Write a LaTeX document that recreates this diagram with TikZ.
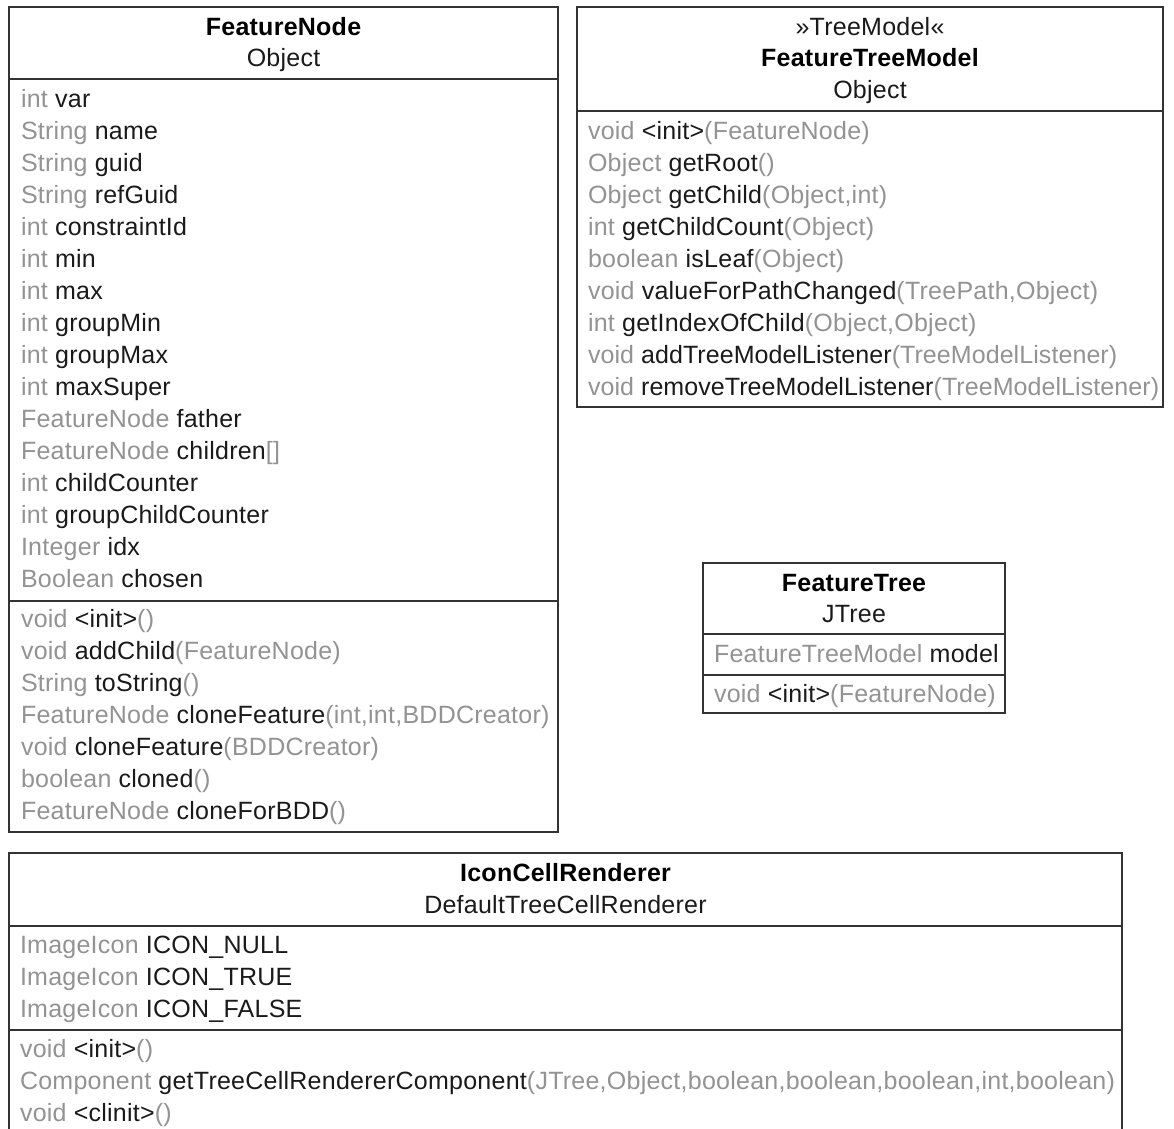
\documentclass[tikz,border=0pt]{standalone}
\usepackage{fontspec}
\setmainfont{Liberation Sans}[LetterSpace=1.0]
\definecolor{typecol}{HTML}{939393}
\definecolor{membercol}{HTML}{1A1A1A}
\definecolor{linecol}{HTML}{333333}
\newcommand{\ty}[1]{\textcolor{typecol}{#1}}
\tikzset{
  every node/.style={inner sep=0pt, outer sep=0pt},
  row/.style={anchor=base west, font=\fontsize{25}{30}\selectfont, text=membercol},
  tightrow/.style={row, font=\fontsize{25}{30}\selectfont\addfontfeature{LetterSpace=0.3}},
  ttl/.style={anchor=base, font=\fontsize{25}{30}\selectfont\bfseries, text=black},
  sub/.style={anchor=base, font=\fontsize{25}{30}\selectfont, text=membercol},
  cls/.style={draw=linecol, line width=2pt, anchor=north west, fill=white},
  sep/.style={draw=linecol, line width=2pt}
}
\begin{document}
\begin{tikzpicture}[x=1pt,y=-1pt]
\useasboundingbox (0,0) rectangle (1174,1128);
\clip (0,0) rectangle (1174,1128);
\fill[white] (0,0) rectangle (1174,1128);

% ---------------- FeatureNode ----------------
\node[cls, minimum width=549pt, minimum height=825pt] (fn) at (9,7) {};
\draw[sep] (9,79) -- (558,79);
\draw[sep] (9,601) -- (558,601);
\node[ttl] (fnt) at (283.5,35) {FeatureNode};
\node[sub] (fns) at (283.5,66) {Object};
\node[row] (fna1) at (21,107) {\ty{int} var};
\node[row] (fna2) at (21,139) {\ty{String} name};
\node[row] (fna3) at (21,171) {\ty{String} guid};
\node[row] (fna4) at (21,203) {\ty{String} refGuid};
\node[row] (fna5) at (21,235) {\ty{int} constraintId};
\node[row] (fna6) at (21,267) {\ty{int} min};
\node[row] (fna7) at (21,299) {\ty{int} max};
\node[row] (fna8) at (21,331) {\ty{int} groupMin};
\node[row] (fna9) at (21,363) {\ty{int} groupMax};
\node[row] (fna10) at (21,395) {\ty{int} maxSuper};
\node[row] (fna11) at (21,427) {\ty{FeatureNode} father};
\node[row] (fna12) at (21,459) {\ty{FeatureNode} children\ty{[]}};
\node[row] (fna13) at (21,491) {\ty{int} childCounter};
\node[row] (fna14) at (21,523) {\ty{int} groupChildCounter};
\node[row] (fna15) at (21,555) {\ty{Integer} idx};
\node[row] (fna16) at (21,587) {\ty{Boolean} chosen};
\node[row] (fnm1) at (21,627) {\ty{void} <init>\ty{()}};
\node[row] (fnm2) at (21,659) {\ty{void} addChild\ty{(FeatureNode)}};
\node[row] (fnm3) at (21,691) {\ty{String} toString\ty{()}};
\node[row] (fnm4) at (21,723) {\ty{FeatureNode} cloneFeature\ty{(int,int,BDDCreator)}};
\node[row] (fnm5) at (21,755) {\ty{void} cloneFeature\ty{(BDDCreator)}};
\node[row] (fnm6) at (21,787) {\ty{boolean} cloned\ty{()}};
\node[row] (fnm7) at (21,819) {\ty{FeatureNode} cloneForBDD\ty{()}};

% ---------------- FeatureTreeModel ----------------
\node[cls, minimum width=586pt, minimum height=400pt] (ftm) at (577,7) {};
\draw[sep] (577,111) -- (1163,111);
\node[sub] (ftms) at (870,35) {»TreeModel«};
\node[ttl] (ftmt) at (870,66) {FeatureTreeModel};
\node[sub] (ftmo) at (870,98) {Object};
\node[row] (ftm1) at (588,139) {\ty{void} <init>\ty{(FeatureNode)}};
\node[row] (ftm2) at (588,171) {\ty{Object} getRoot\ty{()}};
\node[row] (ftm3) at (588,203) {\ty{Object} getChild\ty{(Object,int)}};
\node[row] (ftm4) at (588,235) {\ty{int} getChildCount\ty{(Object)}};
\node[row] (ftm5) at (588,267) {\ty{boolean} isLeaf\ty{(Object)}};
\node[row] (ftm6) at (588,299) {\ty{void} valueForPathChanged\ty{(TreePath,Object)}};
\node[row] (ftm7) at (588,331) {\ty{int} getIndexOfChild\ty{(Object,Object)}};
\node[tightrow] (ftm8) at (588,363) {\ty{void} addTreeModelListener\ty{(TreeModelListener)}};
\node[tightrow] (ftm9) at (588,395) {\ty{void} removeTreeModelListener\ty{(TreeModelListener)}};

% ---------------- FeatureTree ----------------
\node[cls, minimum width=302pt, minimum height=150pt] (ft) at (703,563) {};
\draw[sep] (703,634) -- (1005,634);
\draw[sep] (703,675) -- (1005,675);
\node[ttl] (ftt) at (854,591) {FeatureTree};
\node[sub] (fts) at (854,622) {JTree};
\node[row] (fta1) at (714,662) {\ty{FeatureTreeModel} model};
\node[row] (ftm1b) at (714,702) {\ty{void} <init>\ty{(FeatureNode)}};

% ---------------- IconCellRenderer ----------------
\node[cls, minimum width=1113pt, minimum height=300pt] (icr) at (9,853) {};
\draw[sep] (9,926) -- (1122,926);
\draw[sep] (9,1030) -- (1122,1030);
\node[ttl] (icrt) at (565.5,881) {IconCellRenderer};
\node[sub] (icrs) at (565.5,913) {DefaultTreeCellRenderer};
\node[row] (icra1) at (20,953) {\ty{ImageIcon} ICON\_NULL};
\node[row] (icra2) at (20,985) {\ty{ImageIcon} ICON\_TRUE};
\node[row] (icra3) at (20,1017) {\ty{ImageIcon} ICON\_FALSE};
\node[row] (icrm1) at (20,1057) {\ty{void} <init>\ty{()}};
\node[row] (icrm2) at (20,1089) {\ty{Component} getTreeCellRendererComponent\ty{(JTree,Object,boolean,boolean,boolean,int,boolean)}};
\node[row] (icrm3) at (20,1121) {\ty{void} <clinit>\ty{()}};
\end{tikzpicture}
\end{document}
